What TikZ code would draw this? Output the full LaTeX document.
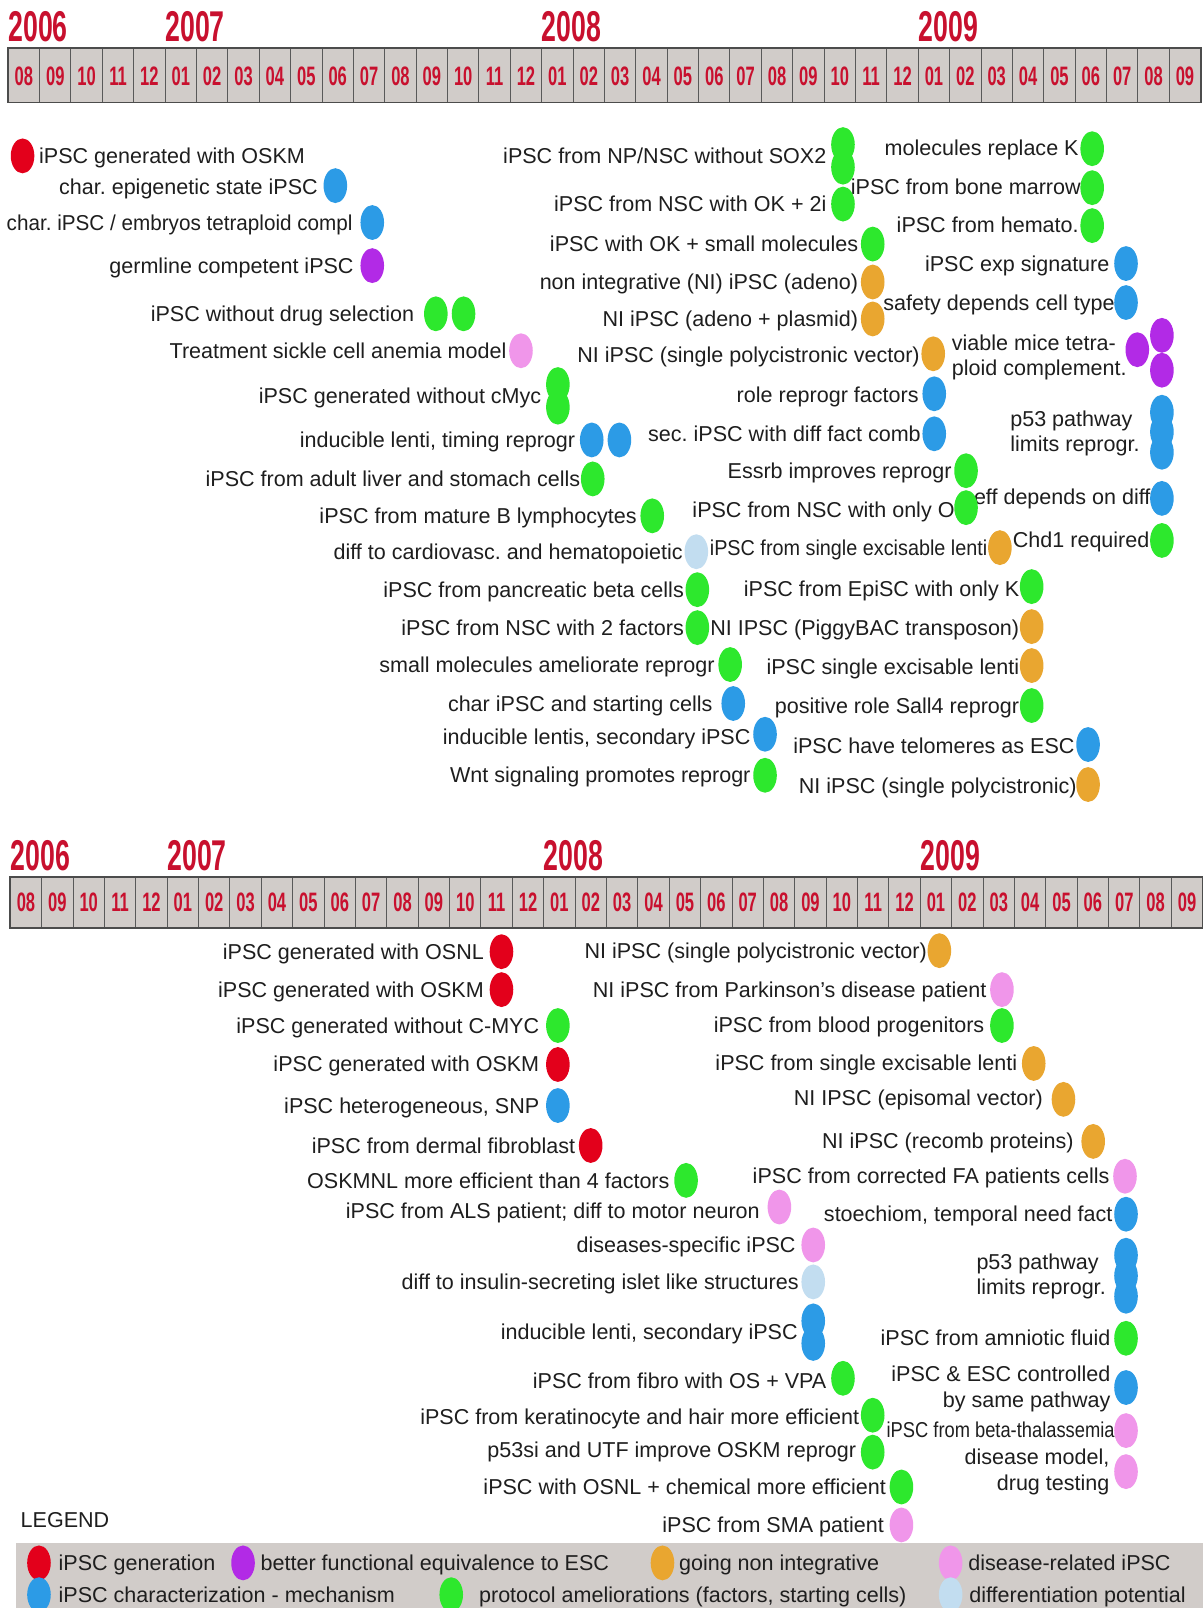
\documentclass[tikz,border=0pt]{standalone}
\usepackage{fontspec}
\setmainfont{Liberation Sans}
\newfontfamily\condfont{Liberation Sans}[FakeStretch=0.62]
\newfontfamily\narrowfont{Liberation Sans}[FakeStretch=0.92]
\newfontfamily\thalfont{Liberation Sans}[FakeStretch=0.85]
\newfontfamily\slimfont{Liberation Sans}[FakeStretch=0.96]
\usetikzlibrary{shapes.geometric}
\frenchspacing

\definecolor{cred}{RGB}{227,0,27}
\definecolor{cblue}{RGB}{44,155,230}
\definecolor{cpurple}{RGB}{178,42,230}
\definecolor{cgreen}{RGB}{45,232,45}
\definecolor{corange}{RGB}{233,166,48}
\definecolor{cpink}{RGB}{240,150,234}
\definecolor{clight}{RGB}{194,221,240}
\definecolor{cgray}{RGB}{209,204,201}
\definecolor{cmonth}{RGB}{200,16,46}
\definecolor{ink}{RGB}{30,30,30}

\tikzset{
  evdot/.style={ellipse, fill=#1, minimum width=23pt, minimum height=34pt, inner sep=0pt},
  evtxt/.style={anchor=east, inner sep=0pt, text=ink, font=\fontsize{21}{25}\selectfont,
    text height=15pt, text depth=0pt},
  ylabel/.style={anchor=south west, inner sep=0pt, text=cmonth,
    font=\condfont\bfseries\fontsize{42}{42}\selectfont},
  mlabel/.style={inner sep=0pt, text=cmonth, font=\condfont\bfseries\fontsize{26}{26}\selectfont},
  barfill/.style={fill=cgray},
  cellline/.style={draw=black!65, line width=1pt},
  barline/.style={draw=black!70, line width=1.6pt}
}

\begin{document}
\begin{tikzpicture}[x=1pt, y=-1pt]
  \useasboundingbox (0,0) rectangle (1173,1568);
  \fill[white] (0,0) rectangle (1173,1568);

  % 1. upper timeline
  \begin{scope}[shift={(8,47)}]
    \fill[barfill] (0,0) rectangle (38*30.6,53);
    \foreach \m [count=\i from 0] in {08,09,10,11,12,01,02,03,04,05,06,07,08,09,10,11,12,01,02,03,04,05,06,07,08,09,10,11,12,01,02,03,04,05,06,07,08,09} {
      \draw[cellline] (\i*30.6,0) -- (\i*30.6,53);
      \node[mlabel] (um\i) at (\i*30.6+15.3,27) {\m};
    }
    \draw[barline] (0,0) rectangle (38*30.6,53);
    \foreach \yr/\i in {2006/0,2007/5,2008/17,2009/29}
      \node[ylabel] (uy\yr) at (\i*30.6,-6) {\yr};
  \end{scope}

  % 2. upper events
  \node[evtxt, anchor=west] (ut0) at (38,152) {iPSC generated with OSKM};
  \node[evtxt, font=\slimfont\fontsize{21}{25}\selectfont] (utembryo) at (344,217) {char. iPSC / embryos tetraploid compl};
  \foreach \px/\py/\lbl [count=\i] in {
      310/182/{char. epigenetic state iPSC},
      345/259/{germline competent iPSC},
      404/306/{iPSC without drug selection},
      494/342/{Treatment sickle cell anemia model},
      528/386/{iPSC generated without cMyc},
      561/429/{inducible lenti, timing reprogr},
      566/467/{iPSC from adult liver and stomach cells},
      621/503/{iPSC from mature B lymphocytes},
      666/538/{diff to cardiovasc. and hematopoietic},
      667/575/{iPSC from pancreatic beta cells},
      667/612/{iPSC from NSC with 2 factors},
      697/648/{small molecules ameliorate reprogr},
      695/686/{char iPSC and starting cells},
      732/718/{inducible lentis, secondary iPSC},
      732/756/{Wnt signaling promotes reprogr},
      806/152/{iPSC from NP/NSC without SOX2},
      806/199/{iPSC from NSC with OK + 2i},
      837/238/{iPSC with OK + small molecules},
      837/275/{non integrative (NI) iPSC (adeno)},
      837/311/{NI iPSC (adeno + plasmid)},
      897/346/{NI iPSC (single polycistronic vector)},
      896/385/{role reprogr factors},
      898/423/{sec. iPSC with diff fact comb},
      928/459/{Essrb improves reprogr},
      931/497/{iPSC from NSC with only O},
      994/574/{iPSC from EpiSC with only K},
      994/612/{NI IPSC (PiggyBAC transposon)},
      994/650/{iPSC single excisable lenti},
      994/688/{positive role Sall4 reprogr},
      1048/727/{iPSC have telomeres as ESC},
      1050/766/{NI iPSC (single polycistronic)},
      1052/144/{molecules replace K},
      1054/182/{iPSC from bone marrow},
      1052/219/{iPSC from hemato.},
      1082/257/{iPSC exp signature},
      1087/295/{safety depends cell type},
      1122/484/{eff depends on diff},
      1121/526/{Chd1 required}}
    \node[evtxt] (ut\i) at (\px,\py) {\lbl};
  \node[evtxt, font=\narrowfont\fontsize{21}{25}\selectfont] (utlenti) at (963,534) {iPSC from single excisable lenti};
  \node[evtxt, anchor=west, align=left] (utmice) at (928,359) {viable mice tetra-\\ploid complement.};
  \node[evtxt, anchor=west, align=left] (utp53) at (985,433) {p53 pathway\\limits reprogr.};

  \foreach \px/\py/\col [count=\i] in {
      22/152/cred, 327/181/cblue, 363/217/cblue, 363/259/cpurple,
      425/306/cgreen, 452/306/cgreen, 508/342/cpink, 544/375/cgreen, 544/397/cgreen,
      577/429/cblue, 604/429/cblue, 578/467/cgreen, 636/503/cgreen, 679/538/clight,
      680/575/cgreen, 680/612/cgreen, 712/648/cgreen, 715/686/cblue, 746/716/cblue,
      746/756/cgreen, 822/141/cgreen, 822/163/cgreen, 822/199/cgreen, 851/238/cgreen,
      851/275/corange, 851/311/corange, 910/345/corange, 911/384/cblue, 911/423/cblue,
      942/459/cgreen, 942/495/cgreen, 975/534/corange, 1006/572/cgreen, 1006/611/corange,
      1006/649/corange, 1006/688/cgreen, 1061/726/cblue, 1061/765/corange,
      1065/145/cgreen, 1065/183/cgreen, 1065/220/cgreen, 1098/257/cblue, 1098/295/cblue,
      1109/341/cpurple, 1133/327/cpurple, 1133/361/cpurple,
      1133/402/cblue, 1133/421/cblue, 1133/441/cblue, 1133/486/cblue, 1133/527/cgreen}
    \node[evdot=\col] (ud\i) at (\px,\py) {};

  % 3. lower timeline
  \begin{scope}[shift={(10,855)}]
    \fill[barfill] (0,0) rectangle (38*30.6,50);
    \foreach \m [count=\i from 0] in {08,09,10,11,12,01,02,03,04,05,06,07,08,09,10,11,12,01,02,03,04,05,06,07,08,09,10,11,12,01,02,03,04,05,06,07,08,09} {
      \draw[cellline] (\i*30.6,0) -- (\i*30.6,50);
      \node[mlabel] (lm\i) at (\i*30.6+15.3,25) {\m};
    }
    \draw[barline] (0,0) rectangle (38*30.6,50);
    \foreach \yr/\i in {2006/0,2007/5,2008/17,2009/29}
      \node[ylabel] (ly\yr) at (\i*30.6,-6) {\yr};
  \end{scope}

  % 4. lower events
  \foreach \px/\py/\lbl [count=\i] in {
      472/928/{iPSC generated with OSNL},
      472/965/{iPSC generated with OSKM},
      526/1000/{iPSC generated without C-MYC},
      526/1037/{iPSC generated with OSKM},
      526/1078/{iPSC heterogeneous, SNP},
      561/1117/{iPSC from dermal fibroblast},
      653/1151/{OSKMNL more efficient than 4 factors},
      741/1181/{iPSC from ALS patient; diff to motor neuron},
      776/1214/{diseases-specific iPSC},
      779/1250/{diff to insulin-secreting islet like structures},
      778/1299/{inducible lenti, secondary iPSC},
      806/1346/{iPSC from fibro with OS + VPA},
      838/1382/{iPSC from keratinocyte and hair more efficient},
      835/1414/{p53si and UTF improve OSKM reprogr},
      864/1450/{iPSC with OSNL + chemical more efficient},
      862/1487/{iPSC from SMA patient},
      904/927/{NI iPSC (single polycistronic vector)},
      962/965/{NI iPSC from Parkinson’s disease patient},
      960/999/{iPSC from blood progenitors},
      992/1036/{iPSC from single excisable lenti},
      1017/1070/{NI IPSC (episomal vector)},
      1047/1112/{NI iPSC (recomb proteins)},
      1082/1147/{iPSC from corrected FA patients cells},
      1085/1184/{stoechiom, temporal need fact},
      1083/1305/{iPSC from amniotic fluid}}
    \node[evtxt] (lt\i) at (\px,\py) {\lbl};
  \node[evtxt, font=\thalfont\fontsize{21}{25}\selectfont] (ltthal) at (1087,1394) {iPSC from beta-thalassemia};
  \node[evtxt, anchor=west, align=left] (ltp53) at (952,1255) {p53 pathway\\limits reprogr.};
  \node[evtxt, align=right] (ltesc) at (1083,1365) {iPSC \& ESC controlled\\by same pathway};
  \node[evtxt, align=right] (ltdrug) at (1082,1446) {disease model,\\drug testing};

  \foreach \px/\py/\col [count=\i] in {
      489/928/cred, 489/965/cred, 544/1000/cgreen, 544/1038/cred, 544/1078/cblue,
      576/1117/cred, 669/1151/cgreen, 760/1177/cpink, 793/1214/cpink, 793/1250/clight,
      793/1288/cblue, 793/1310/cblue, 822/1344/cgreen, 851/1380/cgreen, 851/1416/cgreen,
      879/1450/cgreen, 879/1487/cpink, 916/927/corange, 977/965/cpink, 977/1000/cgreen,
      1008/1037/corange, 1037/1072/corange, 1066/1113/corange, 1097/1147/cpink,
      1098/1184/cblue, 1098/1224/cblue, 1098/1244/cblue, 1098/1264/cblue,
      1098/1305/cgreen, 1098/1353/cblue, 1098/1395/cpink, 1098/1435/cpink}
    \node[evdot=\col] (ld\i) at (\px,\py) {};

  % 5. legend
  \node[evtxt, anchor=west] (legtitle) at (20,1482) {LEGEND};
  \fill[barfill] (16,1505) rectangle (1173,1568);
  \foreach \px/\py/\col/\tx/\lbl [count=\i] in {
      38/1524/cred/57/{iPSC generation},
      237/1524/cpurple/254/{better functional equivalence to ESC},
      646/1524/corange/662/{going non integrative},
      927/1524/cpink/944/{disease-related iPSC},
      38/1555/cblue/57/{iPSC characterization - mechanism},
      440/1555/cgreen/467/{protocol ameliorations (factors, starting cells)},
      927/1555/clight/945/{differentiation potential}} {
    \node[evdot=\col] (gd\i) at (\px,\py) {};
    \node[evtxt, anchor=west] (gt\i) at (\tx,\py) {\lbl};
  }
\end{tikzpicture}
\end{document}
